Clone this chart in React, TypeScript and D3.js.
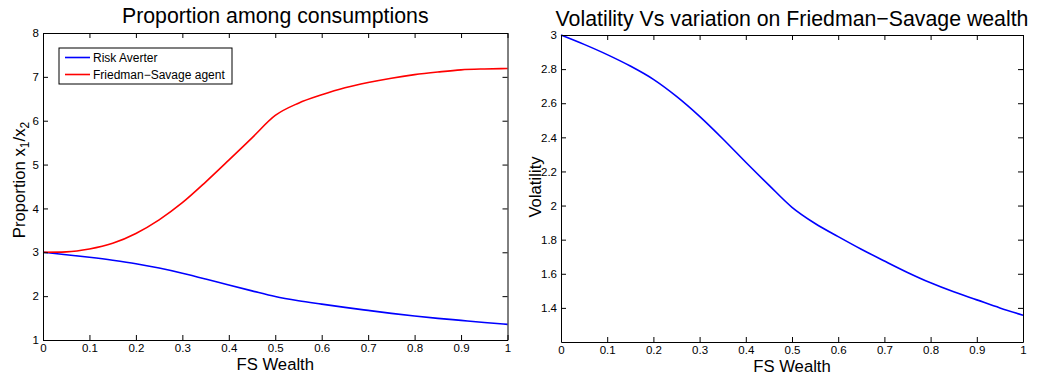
import * as d3 from "d3";
import { useRef, useEffect } from "react";

// FS wealth grid (x) and the curves
const wealth = [0, 0.05, 0.1, 0.15, 0.2, 0.25, 0.3, 0.35, 0.4, 0.45, 0.5, 0.55, 0.6, 0.65, 0.7, 0.75, 0.8, 0.85, 0.9, 0.95, 1];
const riskAverter = [3.0, 2.945, 2.885, 2.818, 2.74, 2.64, 2.523, 2.392, 2.254, 2.12, 1.99, 1.895, 1.818, 1.744, 1.675, 1.608, 1.547, 1.494, 1.447, 1.4, 1.357];
const friedmanSavage = [3.0, 3.01, 3.075, 3.205, 3.43, 3.74, 4.13, 4.6, 5.1, 5.61, 6.12, 6.4, 6.59, 6.75, 6.87, 6.97, 7.05, 7.11, 7.16, 7.18, 7.19];
const volatility = [3.0, 2.945, 2.885, 2.818, 2.74, 2.64, 2.523, 2.392, 2.254, 2.12, 1.99, 1.895, 1.818, 1.744, 1.675, 1.608, 1.547, 1.494, 1.447, 1.4, 1.357];

const xTicks = [0, 0.1, 0.2, 0.3, 0.4, 0.5, 0.6, 0.7, 0.8, 0.9, 1];
const leftYTicks = [1, 2, 3, 4, 5, 6, 7, 8];
const rightYTicks = [1.4, 1.6, 1.8, 2, 2.2, 2.4, 2.6, 2.8, 3];

const legendNames = ["Risk Averter", "Friedman\u2212Savage agent"];
const FONT = "'Liberation Sans', Arial, Helvetica, sans-serif";

function Panel({ left, right, top, bottom, yDomain, yTicks, series, title, titleY, yLabel, yLabelX, yLabelY, xLabelY, legend }) {
  const gBottom = useRef(null);
  const gLeft = useRef(null);
  const gTop = useRef(null);
  const gRight = useRef(null);
  const x = d3.scaleLinear([0, 1], [left, right]);
  const y = d3.scaleLinear(yDomain, [bottom, top]);
  const line = d3.line<number>((d, i) => x(wealth[i]), (d) => y(d)).curve(d3.curveMonotoneX);

  useEffect(() => {
    const fmt = (d) => String(d);
    const style = (g) => {
      g.attr("font-family", FONT).attr("font-size", 11.5);
      g.selectAll("text").attr("fill", "#000");
      g.selectAll("line").attr("stroke", "#000");
      g.select(".domain").attr("stroke", "#000");
    };
    d3.select(gBottom.current).call(d3.axisBottom(x).tickValues(xTicks).tickFormat(fmt).tickSize(-5).tickSizeOuter(0).tickPadding(4)).call(style);
    d3.select(gLeft.current).call(d3.axisLeft(y).tickValues(yTicks).tickFormat(fmt).tickSize(-5).tickSizeOuter(0).tickPadding(4)).call(style);
    d3.select(gTop.current).call(d3.axisTop(x).tickValues(xTicks).tickFormat(() => "").tickSize(-5).tickSizeOuter(0)).call(style);
    d3.select(gRight.current).call(d3.axisRight(y).tickValues(yTicks).tickFormat(() => "").tickSize(-5).tickSizeOuter(0)).call(style);
  });

  return (
    <g>
      {series.map((s) => (
        <path key={s.name} d={line(s.values)} fill="none" stroke={s.color} strokeWidth={1.6} />
      ))}
      <g ref={gBottom} transform={`translate(0,${bottom})`} />
      <g ref={gLeft} transform={`translate(${left},0)`} />
      <g ref={gTop} transform={`translate(0,${top})`} />
      <g ref={gRight} transform={`translate(${right},0)`} />
      <text x={(left + right) / 2} y={titleY} textAnchor="middle" fontFamily={FONT} fontSize={21.3}>{title}</text>
      <text x={(left + right) / 2} y={xLabelY} textAnchor="middle" fontFamily={FONT} fontSize={16.7}>FS Wealth</text>
      <text transform={`translate(${yLabelX},${yLabelY}) rotate(-90)`} textAnchor="middle" fontFamily={FONT} fontSize={16.7}>{yLabel}</text>
      {legend && (
        <g fontFamily={FONT} fontSize={12}>
          <rect x={59} y={48} width={173} height={36} fill="#fff" stroke="#000" />
          {series.map((s, i) => (
            <g key={s.name} transform={`translate(0,${57.5 + i * 17})`}>
              <line x1={65} x2={90} stroke={s.color} strokeWidth={1.6} />
              <text x={93} dy="0.35em">{s.name}</text>
            </g>
          ))}
        </g>
      )}
    </g>
  );
}

export default function App() {
  return (
    <svg width={1037} height={376} style={{ position: "absolute", left: 0, top: 0, background: "#fff" }}>
      <Panel
        left={43} right={507.5} top={33} bottom={340}
        yDomain={[1, 8]} yTicks={leftYTicks}
        series={[
          { name: legendNames[0], color: "#0000ff", values: riskAverter },
          { name: legendNames[1], color: "#ff0000", values: friedmanSavage },
        ]}
        title="Proportion among consumptions" titleY={23}
        yLabel={<>Proportion x<tspan fontSize={12} dy={4}>1</tspan><tspan dy={-4}>/x</tspan><tspan fontSize={12} dy={4}>2</tspan></>}
        yLabelX={25} yLabelY={180} xLabelY={370}
        legend
      />
      <Panel
        left={561} right={1023} top={35} bottom={342}
        yDomain={[1.2, 3]} yTicks={rightYTicks}
        series={[{ name: "Volatility", color: "#0000ff", values: volatility }]}
        title={"Volatility Vs variation on Friedman\u2212Savage wealth"} titleY={26}
        yLabel="Volatility"
        yLabelX={541} yLabelY={187} xLabelY={371.5}
        legend={false}
      />
    </svg>
  );
}
